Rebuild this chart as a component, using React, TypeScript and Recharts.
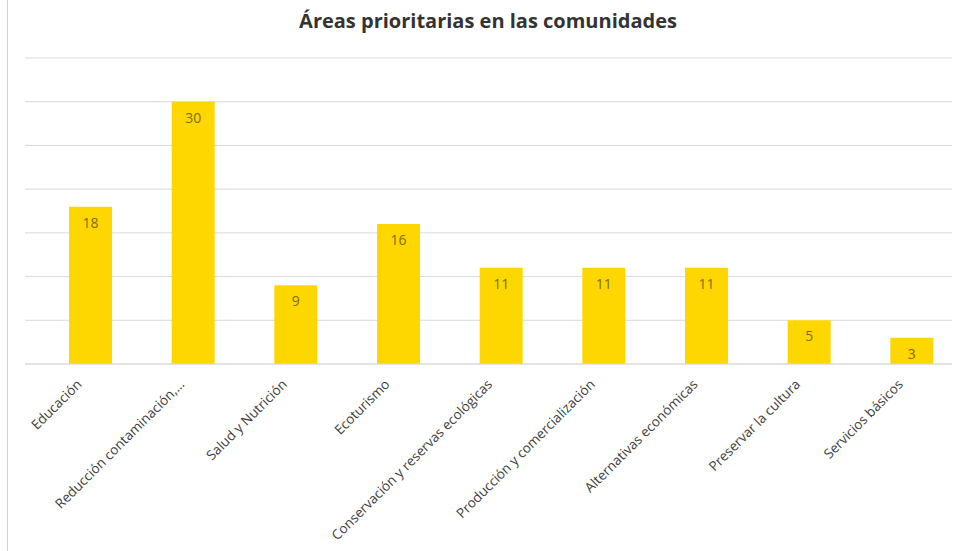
import React from "react";
import { BarChart, Bar, XAxis, YAxis, CartesianGrid, LabelList } from "recharts";

const categories = [
  "Educación",
  "Reducción contaminación,…",
  "Salud y Nutrición",
  "Ecoturismo",
  "Conservación y reservas ecológicas",
  "Producción y comercialización",
  "Alternativas económicas",
  "Preservar la cultura",
  "Servicios básicos",
];
const values = [18, 30, 9, 16, 11, 11, 11, 5, 3];
const yTicks = [0, 5, 10, 15, 20, 25, 30, 35];

const data = categories.map((c, i) => ({ name: c, value: values[i] }));

const FONT = "'Open Sans', 'Liberation Sans', sans-serif";

const Tick = (props: any) => {
  const { x, y, payload } = props;
  return (
    <g transform={`translate(${x - 15},${y + 6})`}>
      <text
        textAnchor="end"
        transform="rotate(-45)"
        dy="0.75em"
        fill="#404040"
        fontSize={13.5}
        fontFamily={FONT}
      >
        {payload.value}
      </text>
    </g>
  );
};

export default function App() {
  return (
    <div style={{ position: "fixed", left: 0, top: 0, width: 959, height: 551, background: "#fff" }}>
      <div style={{ position: "absolute", left: 7, top: 0, width: 1, height: 551, background: "#d0d0d0" }} />
      <div
        style={{
          position: "absolute",
          left: 0,
          top: 7,
          width: 976,
          textAlign: "center",
          fontFamily: FONT,
          fontWeight: 700,
          fontSize: 20,
          color: "#333",
        }}
      >
        Áreas prioritarias en las comunidades
      </div>
      <div style={{ position: "absolute", left: 0, top: 0 }}>
        <BarChart
          width={959}
          height={551}
          data={data}
          margin={{ top: 58, right: 7, bottom: 0, left: 25 }}
        >
          <CartesianGrid vertical={false} stroke="#d9d9d9" />
          <YAxis hide domain={[0, 35]} ticks={yTicks} width={0} />
          <XAxis
            dataKey="name"
            height={187}
            interval={0}
            tickLine={false}
            padding={{ left: 14, right: -11 }}
            axisLine={{ stroke: "#d9d9d9" }}
            tick={<Tick />}
          />
          <Bar dataKey="value" fill="#FFD700" barSize={43} isAnimationActive={false}>
            <LabelList
              dataKey="value"
              position="insideTop"
              offset={11}
              fill="#7f6a00"
              fontSize={14}
              fontFamily={FONT}
            />
          </Bar>
        </BarChart>
      </div>
    </div>
  );
}
